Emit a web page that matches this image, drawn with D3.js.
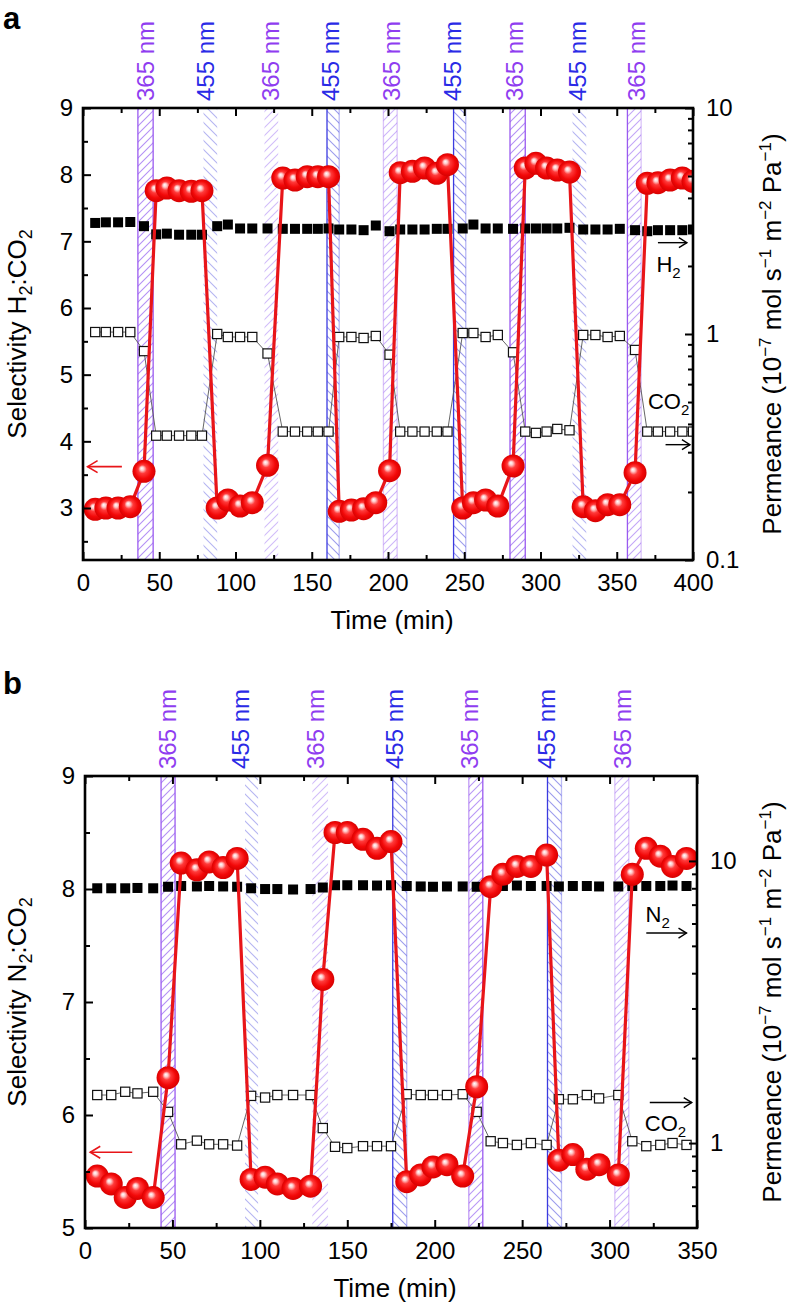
<!DOCTYPE html>
<html><head><meta charset="utf-8">
<script src="https://cdn.jsdelivr.net/npm/d3@7"></script>
<style>
body{margin:0;background:#fff}
svg{display:block}
text{font-family:"Liberation Sans",Arial,Helvetica,sans-serif}
</style>
</head><body>
<svg id="chart" width="788" height="1304"></svg>
<script>
// ---------------- DATA: panel a (H2 / CO2) ----------------
const timeA = [8,15,23,31,40,48,55,63,71,78, 88,95,103,111,121,131,139,147,154,161,
  168,176,184,192,201,208,216,224,232,239, 249,256,264,272,282,290,297,304,311,319,
  328,336,344,352,362,370,377,385,393,400];
const selA = [2.98,3.0,3.0,3.02,3.55, 7.76,7.8,7.76,7.75,7.76,
  3.0,3.12,3.03,3.08,3.64, 7.95,7.92,7.97,7.97,7.97,
  2.95,2.97,2.99,3.08,3.56, 8.03,8.05,8.1,8.02,8.15,
  3.0,3.08,3.12,3.03,3.63, 8.1,8.17,8.1,8.07,8.04,
  3.02,2.96,3.05,3.05,3.53, 7.87,7.88,7.92,7.95,7.9];
const h2A = [3.10,3.12,3.12,3.13,3.0, 2.76,2.78,2.75,2.75,2.75,
  3.0,3.05,2.93,2.93,2.93, 2.92,2.92,2.92,2.92,2.93,
  2.9,2.9,2.88,3.02,2.85, 2.9,2.9,2.9,2.92,2.92,
  2.93,3.05,2.93,2.93,2.92, 2.93,2.93,2.93,2.93,2.95,
  2.9,2.9,2.9,2.92,2.88, 2.85,2.88,2.88,2.88,2.9];
const co2A = [1.02,1.02,1.02,1.02,0.84, 0.355,0.355,0.355,0.355,0.355,
  1.0,0.97,0.97,0.97,0.82, 0.37,0.37,0.37,0.37,0.37,
  0.97,0.97,0.96,0.98,0.81, 0.37,0.37,0.37,0.37,0.37,
  1.01,1.01,0.97,0.99,0.83, 0.37,0.365,0.37,0.38,0.375,
  0.99,0.99,0.97,0.98,0.85, 0.37,0.37,0.37,0.37,0.37];
const bandStartA = [36,79,119,160,197,243,280,321,357];
const bandEndA   = [46,88,128,168,206,251,290,330,366];
const bandTypeA  = ["365","455","365","455","365","455","365","455","365"];
const labelTimeA = [41,80,123,162,202,242,283,324,363];
const xTicksA = [0,50,100,150,200,250,300,350,400];
const xMinorA = [25,75,125,175,225,275,325,375];
const yTicksA = [3,4,5,6,7,8,9];
const yMinorA = [2.5,3.5,4.5,5.5,6.5,7.5,8.5];
const rTicksA = [0.1,1,10];
const rTickLabelsA = ["0.1","1","10"];
const rMinorA = [0.2,0.3,0.4,0.5,0.6,0.7,0.8,0.9,2,3,4,5,6,7,8,9];

// ---------------- DATA: panel b (N2 / CO2) ----------------
const timeB = [7,15,23,30,39, 47.5, 55,64,71,79,87, 95,103,110,119,129, 136,
  143,150,159,167,175, 184,192,199,207,216, 224, 232,239,247,255,264,
  271,279,287,294,305, 313, 321,329,336,344];
const selB = [5.46,5.39,5.27,5.35,5.27, 6.33, 8.23,8.17,8.24,8.19,8.27,
  5.43,5.45,5.39,5.35,5.37, 7.2, 8.5,8.5,8.44,8.36,8.42,
  5.41,5.47,5.54,5.56,5.46, 6.25, 8.02,8.13,8.2,8.2,8.3,
  5.6,5.65,5.52,5.56,5.47, 8.13, 8.36,8.29,8.2,8.27];
const n2B = [8.0,8.0,8.0,8.02,8.0, 8.1, 8.15,8.12,8.15,8.12,8.1,
  8.0,7.95,7.95,7.92,7.95, 8.05, 8.2,8.2,8.2,8.18,8.2,
  8.15,8.12,8.1,8.12,8.12, 8.1, 8.15,8.15,8.18,8.15,8.15,
  8.12,8.15,8.15,8.12,8.12, 8.15, 8.15,8.15,8.18,8.15];
const co2B = [1.48,1.48,1.52,1.50,1.52, 1.29, 0.99,1.02,0.99,0.99,0.98,
  1.47,1.45,1.48,1.48,1.48, 1.13, 0.97,0.96,0.975,0.975,0.975,
  1.49,1.48,1.48,1.48,1.49, 1.29, 1.015,1.0,0.985,1.0,0.985,
  1.43,1.43,1.48,1.44,1.48, 1.015, 0.975,0.985,1.0,0.985];
const bandStartB = [43.5,91.5,130,176,219.5,264.5,303];
const bandEndB   = [51.5,99,139,184,227.5,272.5,311];
const bandTypeB  = ["365","455","365","455","365","455","365"];
const labelTimeB = [47,89,132,177,220,264,307.5];
const xTicksB = [0,50,100,150,200,250,300,350];
const xMinorB = [25,75,125,175,225,275,325];
const yTicksB = [5,6,7,8,9];
const yMinorB = [5.5,6.5,7.5,8.5];
const rTicksB = [1,10];
const rTickLabelsB = ["1","10"];
const rMinorB = [0.6,0.7,0.8,0.9,2,3,4,5,6,7,8,9];

// ---------------- STYLE / LAYOUT ----------------
const FONT = '"Liberation Sans",Arial,Helvetica,sans-serif';
const C365 = "#8f3df0", C455 = "#2a2ae6";
const EDGE365 = "#9a5af0", EDGE455 = "#3b3be0";
const RED = "#e81519";
// edge line opacity [left,right] and hatch opacity for each band
const edgeStyleA = [[1,1,.75],[0,0,.45],[0,0,.45],[1,.35,.6],[.35,.35,.5],[1,.35,.6],[1,1,.75],[0,0,.45],[1,.35,.6]];
const edgeStyleB = [[1,1,.75],[0,0,.45],[0,0,.45],[1,.35,.6],[.6,1,.7],[1,.35,.6],[.35,.35,.5]];

const svg = d3.select("#chart");
const defs = svg.append("defs");

// hatch patterns
const p365 = defs.append("pattern").attr("id","hatch365").attr("patternUnits","userSpaceOnUse")
  .attr("width",8).attr("height",8);
p365.append("path").attr("d","M-2,2 L2,-2 M0,8 L8,0 M6,10 L10,6")
  .attr("stroke","#9b6cf2").attr("stroke-width",1.1);
const p455 = defs.append("pattern").attr("id","hatch455").attr("patternUnits","userSpaceOnUse")
  .attr("width",9).attr("height",9);
p455.append("path").attr("d","M-2,7 L2,11 M0,0 L9,9 M7,-2 L11,2")
  .attr("stroke","#5a5ae0").attr("stroke-width",1.1);

// ball gradient
const grad = defs.append("radialGradient").attr("id","ball")
  .attr("cx","50%").attr("cy","50%").attr("r","52%").attr("fx","40%").attr("fy","36%");
[[0,"#ffffff"],[0.16,"#ffc8c8"],[0.36,"#ff3a3a"],[0.7,"#f20808"],[1,"#d40000"]]
  .forEach(([o,c]) => grad.append("stop").attr("offset",o).attr("stop-color",c));

function arrowRight(g, x1, x2, yy) {
  g.append("line").attr("x1",x1).attr("x2",x2).attr("y1",yy).attr("y2",yy)
    .attr("stroke","#000").attr("stroke-width",1.4);
  g.append("path").attr("d",`M${x2-8},${yy-5} L${x2},${yy} L${x2-8},${yy+5}`)
    .attr("fill","none").attr("stroke","#000").attr("stroke-width",1.4);
}
function arrowLeft(g, x1, x2, yy, col) {
  g.append("line").attr("x1",x1).attr("x2",x2).attr("y1",yy).attr("y2",yy)
    .attr("stroke",col).attr("stroke-width",1.6);
  g.append("path").attr("d",`M${x1+10},${yy-6} L${x1},${yy} L${x1+10},${yy+6}`)
    .attr("fill","none").attr("stroke",col).attr("stroke-width",1.6);
}
function gasLabel(g, xx, yy, gas) {
  const t = g.append("text").attr("x",xx).attr("y",yy).attr("text-anchor","middle")
    .attr("font-size",22).attr("font-family",FONT).attr("dy","0.35em");
  t.append("tspan").text(gas);
  t.append("tspan").attr("font-size",15).attr("dy",6).text("2");
}

function drawPanel(p) {
  const g = svg.append("g");
  const x = d3.scaleLinear().domain(p.xDomain).range([p.left, p.right]);
  const y = d3.scaleLinear().domain(p.yDomain).range([p.bottom, p.top]);
  const yr = d3.scaleLog().domain(p.rDomain).range([p.bottom, p.top]);
  const clipId = "clip" + p.id;
  defs.append("clipPath").attr("id", clipId).append("rect")
    .attr("x", p.left).attr("y", p.top).attr("width", p.right - p.left).attr("height", p.bottom - p.top);

  // bands
  const bands = p.bandStart.map((s, i) => ({s, e: p.bandEnd[i], type: p.bandType[i], lab: p.labelTime[i], st: p.edgeStyle[i]}));
  const bg = g.append("g");
  bands.forEach(b => {
    bg.append("rect").attr("x", x(b.s)).attr("y", p.top).attr("width", x(b.e) - x(b.s))
      .attr("height", p.bottom - p.top).attr("fill", `url(#hatch${b.type})`).attr("opacity", b.st[2]);
    const ec = b.type === "365" ? EDGE365 : EDGE455;
    [[b.s, b.st[0]], [b.e, b.st[1]]].forEach(([t, o]) => {
      if (o > 0) bg.append("line").attr("x1", x(t)).attr("x2", x(t)).attr("y1", p.top).attr("y2", p.bottom)
        .attr("stroke", ec).attr("stroke-width", 1.3).attr("opacity", o);
    });
    g.append("text").attr("transform", `translate(${x(b.lab)},${p.top - 7}) rotate(-90)`)
      .attr("dy", "0.36em").attr("font-size", 24).attr("font-family", FONT)
      .attr("fill", b.type === "365" ? C365 : C455).text(b.type + " nm");
  });

  const dg = g.append("g").attr("clip-path", `url(#${clipId})`);
  const pts = p.time.map((t, i) => ({t, s: p.sel[i], a: p.gasA[i], c: p.co2[i]}));

  // CO2 open squares with thin line
  dg.append("path").datum(pts).attr("fill", "none").attr("stroke", "#555").attr("stroke-width", 0.9)
    .attr("d", d3.line().x(d => x(d.t)).y(d => yr(d.c)));
  dg.selectAll(null).data(pts).join("rect")
    .attr("x", d => x(d.t) - 4.6).attr("y", d => yr(d.c) - 4.6).attr("width", 9.2).attr("height", 9.2)
    .attr("fill", "#fff").attr("stroke", "#111").attr("stroke-width", 1.2);
  // H2 / N2 filled squares
  dg.selectAll(null).data(pts).join("rect")
    .attr("x", d => x(d.t) - 5).attr("y", d => yr(d.a) - 5).attr("width", 10).attr("height", 10)
    .attr("fill", "#000");
  // selectivity red line + balls
  dg.append("path").datum(pts).attr("fill", "none").attr("stroke", RED).attr("stroke-width", 3.2)
    .attr("d", d3.line().x(d => x(d.t)).y(d => y(d.s)));
  dg.selectAll(null).data(pts).join("circle")
    .attr("cx", d => x(d.t)).attr("cy", d => y(d.s)).attr("r", 11.5).attr("fill", "url(#ball)");

  // axes
  const styleAxis = s => {
    s.select(".domain").remove();
    s.selectAll("line").attr("stroke", "#000").attr("stroke-width", 2);
    s.selectAll("text").attr("font-size", 24).attr("font-family", FONT).attr("fill", "#000");
  };
  g.append("g").attr("transform", `translate(0,${p.bottom})`)
    .call(d3.axisBottom(x).tickValues(p.xTicks).tickSize(-8).tickPadding(14).tickFormat(d3.format("d"))).call(styleAxis);
  g.append("g").attr("transform", `translate(0,${p.bottom})`)
    .call(d3.axisBottom(x).tickValues(p.xMinor).tickSize(-5).tickFormat("")).call(styleAxis);
  g.append("g").attr("transform", `translate(0,${p.top})`)
    .call(d3.axisTop(x).tickValues(p.xTicks).tickSize(-8).tickFormat("")).call(styleAxis);
  g.append("g").attr("transform", `translate(0,${p.top})`)
    .call(d3.axisTop(x).tickValues(p.xMinor).tickSize(-5).tickFormat("")).call(styleAxis);
  g.append("g").attr("transform", `translate(${p.left},0)`)
    .call(d3.axisLeft(y).tickValues(p.yTicks).tickSize(-8).tickPadding(10).tickFormat(d3.format("d"))).call(styleAxis);
  g.append("g").attr("transform", `translate(${p.left},0)`)
    .call(d3.axisLeft(y).tickValues(p.yMinor).tickSize(-5).tickFormat("")).call(styleAxis);
  g.append("g").attr("transform", `translate(${p.right},0)`)
    .call(d3.axisRight(yr).tickValues(p.rTicks).tickSize(-8).tickPadding(13).tickFormat((d, i) => p.rTickLabels[i])).call(styleAxis);
  g.append("g").attr("transform", `translate(${p.right},0)`)
    .call(d3.axisRight(yr).tickValues(p.rMinor).tickSize(-5).tickFormat("")).call(styleAxis);

  // frame
  g.append("rect").attr("x", p.left).attr("y", p.top).attr("width", p.right - p.left).attr("height", p.bottom - p.top)
    .attr("fill", "none").attr("stroke", "#000").attr("stroke-width", 2.6);

  // titles
  g.append("text").attr("x", (p.left + p.right) / 2 + 4).attr("y", p.bottom + 60).attr("dy", "0.35em")
    .attr("text-anchor", "middle").attr("font-size", 26).attr("font-family", FONT).text("Time (min)");
  const lt = g.append("text").attr("transform", `translate(17,${(p.top + p.bottom) / 2}) rotate(-90)`)
    .attr("dy", "0.36em").attr("text-anchor", "middle").attr("font-size", 26).attr("font-family", FONT);
  lt.append("tspan").text("Selectivity " + p.gasName);
  lt.append("tspan").attr("font-size", 18).attr("dy", 6).text("2");
  lt.append("tspan").attr("dy", -6).text(":CO");
  lt.append("tspan").attr("font-size", 18).attr("dy", 6).text("2");

  const rt = g.append("text").attr("transform", `translate(772,${(p.top + p.bottom) / 2}) rotate(-90)`)
    .attr("dy", "0.36em").attr("text-anchor", "middle").attr("font-size", 26).attr("font-family", FONT);
  const sup = (txt) => { rt.append("tspan").attr("font-size", 17).attr("dy", -10).text(txt); };
  const norm = (txt) => { rt.append("tspan").attr("dy", 10).text(txt); };
  rt.append("tspan").text("Permeance (10");
  sup("\u22127"); norm(" mol s"); sup("\u22121"); norm(" m"); sup("\u22122"); norm(" Pa"); sup("\u22121"); norm(")");

  // panel letter
  g.append("text").attr("x", 3).attr("y", p.letterY).attr("font-size", 31).attr("font-weight", "bold")
    .attr("font-family", FONT).text(p.letter);

  // annotations
  arrowLeft(g, x(p.redArrow[0]), x(p.redArrow[1]), y(p.redArrow[2]), RED);
  arrowRight(g, x(p.gasArrow[0]), x(p.gasArrow[1]), y(p.gasArrow[2]));
  gasLabel(g, x(p.gasText[0]), y(p.gasText[1]), p.gasName);
  arrowRight(g, x(p.co2Arrow[0]), x(p.co2Arrow[1]), y(p.co2Arrow[2]));
  gasLabel(g, x(p.co2Text[0]), y(p.co2Text[1]), "CO");
}

drawPanel({
  id: "a", letter: "a", gasName: "H", letterY: 29,
  left: 83, right: 693, top: 108, bottom: 560,
  xDomain: [0, 400], yDomain: [2.22, 9], rDomain: [0.1, 10],
  time: timeA, sel: selA, gasA: h2A, co2: co2A,
  bandStart: bandStartA, bandEnd: bandEndA, bandType: bandTypeA, labelTime: labelTimeA, edgeStyle: edgeStyleA,
  xTicks: xTicksA, xMinor: xMinorA, yTicks: yTicksA, yMinor: yMinorA,
  rTicks: rTicksA, rTickLabels: rTickLabelsA, rMinor: rMinorA,
  redArrow: [3, 25.5, 3.62],
  gasArrow: [377, 396, 6.98], gasText: [384, 6.66],
  co2Arrow: [382, 398, 3.95], co2Text: [384, 4.6]
});
drawPanel({
  id: "b", letter: "b", gasName: "N", letterY: 694,
  left: 85, right: 697, top: 776, bottom: 1228,
  xDomain: [0, 350], yDomain: [5, 9], rDomain: [0.5, 20],
  time: timeB, sel: selB, gasA: n2B, co2: co2B,
  bandStart: bandStartB, bandEnd: bandEndB, bandType: bandTypeB, labelTime: labelTimeB, edgeStyle: edgeStyleB,
  xTicks: xTicksB, xMinor: xMinorB, yTicks: yTicksB, yMinor: yMinorB,
  rTicks: rTicksB, rTickLabels: rTickLabelsB, rMinor: rMinorB,
  redArrow: [3, 27, 5.67],
  gasArrow: [321, 344, 7.61], gasText: [327.5, 7.78],
  co2Arrow: [323, 347, 6.11], co2Text: [332, 5.93]
});
</script>
</body></html>
